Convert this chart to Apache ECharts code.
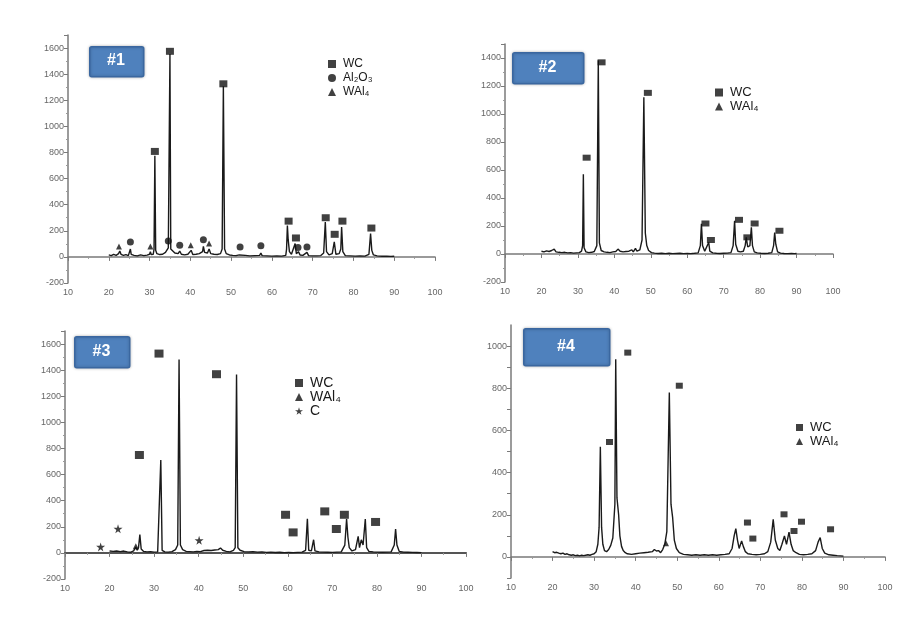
<!DOCTYPE html>
<html><head><meta charset="utf-8">
<script src="https://cdn.jsdelivr.net/npm/echarts@6/dist/echarts.min.js"></script>
<style>html,body{margin:0;padding:0;background:#fff}#c{width:915px;height:631px}</style>
</head><body><div id="c"></div>
<script>
// ---------- DATA ----------
const xTicks = [10,20,30,40,50,60,70,80,90,100];
const pattern1 = [[20,15],[20.6,10],[21.2,20],[21.8,12],[22.4,25],[22.7,45],[23,20],[23.6,12],[24.2,18],[24.8,10],[25.1,22],[25.3,60],[25.5,20],[26.2,12],[27,8],[27.8,15],[28.6,10],[29.4,14],[30,20],[30.2,40],[30.4,18],[30.9,20],[31.1,60],[31.3,775],[31.5,50],[31.8,25],[32.5,18],[33.2,20],[33.9,35],[34.6,70],[34.8,60],[35,1555],[35.2,60],[35.5,45],[36.2,30],[37,25],[37.4,45],[37.8,20],[38.6,15],[39.4,20],[40.2,50],[40.6,18],[41.4,20],[42.2,25],[43,40],[43.2,80],[43.5,35],[44.2,30],[44.6,60],[45,25],[45.8,20],[46.6,18],[47.4,25],[47.8,60],[48.1,1308],[48.4,60],[48.8,25],[49.6,15],[50.4,12],[51.2,10],[52,15],[52.2,25],[52.4,10],[53.5,12],[54.6,8],[55.8,10],[57,12],[57.3,30],[57.6,10],[58.8,8],[60,6],[61.2,8],[62.4,6],[63.4,12],[63.6,60],[63.8,241],[64,130],[64.3,40],[64.8,20],[65.2,30],[65.7,102],[66,25],[66.5,40],[66.9,15],[67.6,12],[68.6,35],[69,10],[70,8],[71,8],[72,10],[72.7,30],[73.1,267],[73.4,40],[74,15],[74.8,25],[75.3,115],[75.7,20],[76.5,25],[76.9,60],[77.1,229],[77.4,40],[78,10],[79.2,8],[80.4,6],[81.6,8],[82.8,6],[83.8,20],[84.2,178],[84.5,50],[84.9,15],[85.8,8],[87,5],[88.2,6],[89.2,4],[90,5]];
const wc1 = [[31.3,808],[35.0,1575],[48.1,1326],[64.1,274],[65.9,145],[73.2,300],[75.4,173],[77.3,274],[84.4,221]];
const al2o3_1 = [[25.3,115],[34.6,122],[37.4,89],[43.2,132],[52.2,76],[57.3,86],[66.4,72],[68.6,76]];
const wal4_1 = [[22.5,80],[30.2,80],[40.1,89],[44.6,102]];

const pattern2 = [[20,20],[20.7,15],[21.4,22],[22.1,18],[22.8,25],[23.5,35],[24,15],[24.8,12],[25.6,10],[26.4,12],[27.2,8],[28,10],[28.8,6],[29.6,8],[30.4,10],[31,20],[31.3,60],[31.5,569],[31.7,45],[32.2,15],[33,10],[33.8,12],[34.5,18],[35.2,60],[35.6,1383],[35.9,80],[36.4,25],[37.2,15],[38,12],[38.8,10],[39.6,15],[40.4,18],[41,35],[41.6,20],[42.4,15],[43.2,18],[44,20],[44.8,30],[45.2,15],[45.8,40],[46.2,20],[47,30],[47.6,100],[48.1,1120],[48.5,150],[48.9,60],[49.4,25],[50.2,10],[51,6],[52,4],[53,5],[54,3],[55,5],[56,3],[57,4],[58,5],[59,3],[60,4],[61,3],[62,5],[63,8],[63.6,60],[63.9,215],[64.2,60],[64.8,20],[65.3,25],[65.9,83],[66.2,20],[67,8],[68,5],[69,4],[70,5],[71,6],[72,10],[72.6,60],[73,237],[73.3,70],[73.9,20],[74.6,15],[75.4,20],[75.9,60],[76.2,119],[76.6,50],[77.2,60],[77.6,190],[77.9,60],[78.4,15],[79.2,8],[80.2,5],[81.2,4],[82.2,5],[83.2,10],[83.7,60],[84,154],[84.3,70],[84.8,15],[85.6,6],[86.6,4],[87.6,3],[88.6,4],[89.4,3],[90,4]];
const wc2 = [[32.4,688],[36.5,1369],[49.2,1151],[65.0,218],[66.5,100],[74.2,244],[76.5,119],[78.5,218],[85.3,166]];
const wal4_2 = [];

const pattern3 = [[20,15],[20.8,12],[21.6,14],[22.4,10],[23.2,14],[24,8],[24.8,5],[25.4,15],[25.9,45],[26.2,20],[26.5,40],[26.8,140],[27.1,30],[27.6,12],[28.4,8],[29.2,10],[30,6],[30.8,8],[31.2,20],[31.5,712],[31.8,20],[32.4,8],[33.2,6],[34,10],[34.8,25],[35.3,60],[35.6,1481],[35.9,60],[36.4,25],[37.2,12],[38,10],[38.8,8],[39.6,12],[40.4,10],[41.2,18],[42,20],[42.8,18],[43.6,22],[44.4,25],[44.9,38],[45.4,20],[46.2,12],[47,8],[47.8,20],[48.2,40],[48.5,1366],[48.8,40],[49.3,20],[50.2,10],[51.2,8],[52.2,10],[53.2,6],[54.2,8],[55.2,4],[56.2,6],[57.2,3],[58.2,5],[59.2,2],[60.2,4],[61.2,2],[62.2,4],[63.2,6],[64,20],[64.4,262],[64.7,20],[65.3,15],[65.8,101],[66.1,15],[67,8],[68,6],[69,5],[70,4],[71,6],[72,8],[72.8,60],[73.2,260],[73.5,120],[73.8,40],[74.4,15],[75.2,25],[75.8,127],[76.1,40],[76.5,100],[76.9,60],[77.4,260],[77.7,40],[78.2,12],[79.2,8],[80.2,6],[81.2,5],[82.2,6],[83.2,8],[83.9,60],[84.2,183],[84.5,60],[85,12],[86,6],[87,5],[88,4],[89,3],[90,2]];
const wc3 = [[26.7,750],[31.1,1527],[44.0,1369],[59.5,292],[61.2,157],[68.3,318],[70.9,183],[72.7,292],[79.7,237]];
const wal4_3 = [[25.9,50]];
const c3 = [[18.0,46],[21.9,185],[40.1,96]];

const pattern4 = [[20,25],[20.5,20],[21,22],[21.5,18],[22,15],[22.5,18],[23,12],[23.5,15],[24,10],[24.5,8],[25,10],[25.5,6],[26,8],[26.5,5],[27,8],[27.5,6],[28,8],[28.5,10],[29,8],[29.5,12],[30,15],[30.5,25],[30.9,60],[31.2,140],[31.5,522],[31.8,140],[32.1,60],[32.5,30],[33,25],[33.5,35],[34,55],[34.5,90],[35,250],[35.2,938],[35.5,280],[35.9,200],[36.2,100],[36.6,50],[37,30],[37.5,20],[38,15],[39,12],[40,15],[41,18],[42,20],[43,22],[44,25],[44.5,35],[45,28],[45.5,30],[46,20],[46.5,35],[47,60],[47.5,120],[48.1,780],[48.5,250],[48.9,186],[49.3,80],[49.8,40],[50.5,20],[51.5,12],[52.5,10],[53.5,8],[54.5,10],[55.5,8],[56.5,10],[57.5,8],[58.5,10],[59.5,8],[60.5,10],[61.5,12],[62.5,15],[63.2,40],[63.7,100],[64.1,134],[64.5,80],[64.9,40],[65.5,76],[65.9,50],[66.4,25],[67,15],[68,12],[69,10],[70,12],[71,15],[71.8,25],[72.5,70],[73.1,178],[73.6,80],[74.2,40],[74.7,30],[75.2,60],[75.8,99],[76.3,60],[76.9,118],[77.4,60],[77.9,30],[78.6,20],[79.4,12],[80.4,10],[81.4,12],[82.4,15],[83.3,30],[83.9,70],[84.4,92],[84.9,40],[85.5,18],[86.5,10],[87.5,8],[88.5,6],[89.3,5],[90,4]];
const wc4 = [[33.7,545],[38.1,969],[50.5,812],[66.9,163],[68.2,87],[75.7,202],[78.1,123],[79.9,167],[86.9,131]];
const wal4_4 = [[47.3,65]];

const panelTitles = ['#1','#2','#3','#4'];

// ---------- CHART ----------
const STAR = 'path://M50,0 L61,35 L98,35 L68,57 L79,91 L50,70 L21,91 L32,57 L2,35 L39,35 Z';
const FONT = 'Liberation Sans, Arial, sans-serif';
const grids = [
  {left:68, right:480, top:35, bottom:348},
  {left:505, right:82, top:44, bottom:349},
  {left:65, right:449, top:331, bottom:52},
  {left:511, right:30, top:325, bottom:53}
];
const yCfg = [
  {min:-200, max:1700, interval:200},
  {min:-200, max:1500, interval:200},
  {min:-200, max:1700, interval:200},
  {min:-100, max:1100, interval:100}
];
const axisLabel = {color:'#666', fontSize:9, fontFamily:FONT};
const xAxes = grids.map((g,i)=>({
  type:'value', gridIndex:i, min:xTicks[0], max:xTicks[xTicks.length-1], interval:10,
  axisLine:{lineStyle:{color: i===2 ? '#555' : '#7a7a7a', width: i===2 ? 2.2 : 1.5}},
  axisTick:{show:true, length:4, lineStyle:{color:'#7a7a7a'}},
  minorTick:{show:true, splitNumber:2, length:2, lineStyle:{color:'#999'}},
  axisLabel:{...axisLabel, margin:5}, splitLine:{show:false}
}));
const yAxes = yCfg.map((c,i)=>({
  type:'value', gridIndex:i, min:c.min, max:c.max, interval:c.interval,
  axisLine:{show:true, lineStyle:{color:'#7a7a7a', width:1.5}},
  axisTick:{show:true, length:4, lineStyle:{color:'#7a7a7a'}},
  minorTick:{show: i!==3, splitNumber:2, length:2, lineStyle:{color:'#999'}},
  axisLabel:{...axisLabel, margin:4, showMaxLabel:false,
    formatter: i===3 ? (v)=> (v%200===0 && v>=0 && v<=1000) ? String(v) : '' : (v)=> v%200!==0 ? '' : String(v)},
  splitLine:{show:false}
}));

function lineS(data, i){
  return {type:'line', xAxisIndex:i, yAxisIndex:i, data, showSymbol:false, symbol:'none',
    lineStyle:{color:'#1a1a1a', width:1.4}, silent:true, z:2};
}
function markS(name, data, i, symbol, size){
  return {type:'scatter', name, xAxisIndex:i, yAxisIndex:i, data, symbol, symbolSize:size,
    itemStyle:{color:'#111'}, silent:true, z:3};
}
const series = [
  lineS(pattern1,0), markS('p1WC',wc1,0,'rect',[8,7]), markS('p1Al',al2o3_1,0,'circle',7), markS('p1WAl',wal4_1,0,'triangle',6),
  lineS(pattern2,1), markS('p2WC',wc2,1,'rect',[8,6]), markS('p2WAl',wal4_2,1,'triangle',6),
  lineS(pattern3,2), markS('p3WC',wc3,2,'rect',[9,8]), markS('p3WAl',wal4_3,2,'triangle',6), markS('p3C',c3,2,STAR,9),
  lineS(pattern4,3), markS('p4WC',wc4,3,'rect',[7,6]), markS('p4WAl',wal4_4,3,'triangle',6)
];
const labelMap = {p1WC:'WC', p1Al:'Al₂O₃', p1WAl:'WAl₄', p2WC:'WC', p2WAl:'WAl₄', p3WC:'WC', p3WAl:'WAl₄', p3C:'C', p4WC:'WC', p4WAl:'WAl₄'};
function legend(names, icons, left, top, fs, gap, iw){
  return {orient:'vertical', left, top, itemGap:gap, itemWidth:iw, itemHeight:iw, selectedMode:false,
    data: names.map((n,k)=>({name:n, icon:icons[k]})),
    formatter:(n)=>labelMap[n],
    textStyle:{fontSize:fs, color:'#1a1a1a', fontFamily:FONT, padding:[0,0,0,2]}};
}
const legends = [
  legend(['p1WC','p1Al','p1WAl'], ['rect','circle','triangle'], 323, 53, 12, 2, 8),
  legend(['p2WC','p2WAl'], ['rect','triangle'], 710, 81, 13, 1, 8),
  legend(['p3WC','p3WAl','p3C'], ['rect','triangle',STAR], 290, 371, 14, 0, 8),
  legend(['p4WC','p4WAl'], ['rect','triangle'], 791, 416, 13, 1, 7)
];
const boxes = [[89,46,54,30],[512,52,71,31],[74,336,55,31],[523,328,86,37]];
const graphic = [];
boxes.forEach((b,i)=>{
  graphic.push({type:'rect', left:b[0], top:b[1], shape:{width:b[2], height:b[3], r:2},
    style:{fill:'#4f81bd', stroke:'#3a67a0', lineWidth:1.5, shadowBlur:3, shadowColor:'rgba(0,0,0,0.25)'}, z:10});
  graphic.push({type:'text', x:b[0]+b[2]/2, y:b[1]+b[3]/2,
    style:{text:panelTitles[i], fill:'#fff', font:'bold 16px '+FONT, textAlign:'center', textVerticalAlign:'middle'}, z:11});
});

const chart = echarts.init(document.getElementById('c'), null, {renderer:'canvas'});
chart.setOption({
  animation:false, backgroundColor:'#fff',
  grid:grids, xAxis:xAxes, yAxis:yAxes, series, legend:legends, graphic
});
</script></body></html>
